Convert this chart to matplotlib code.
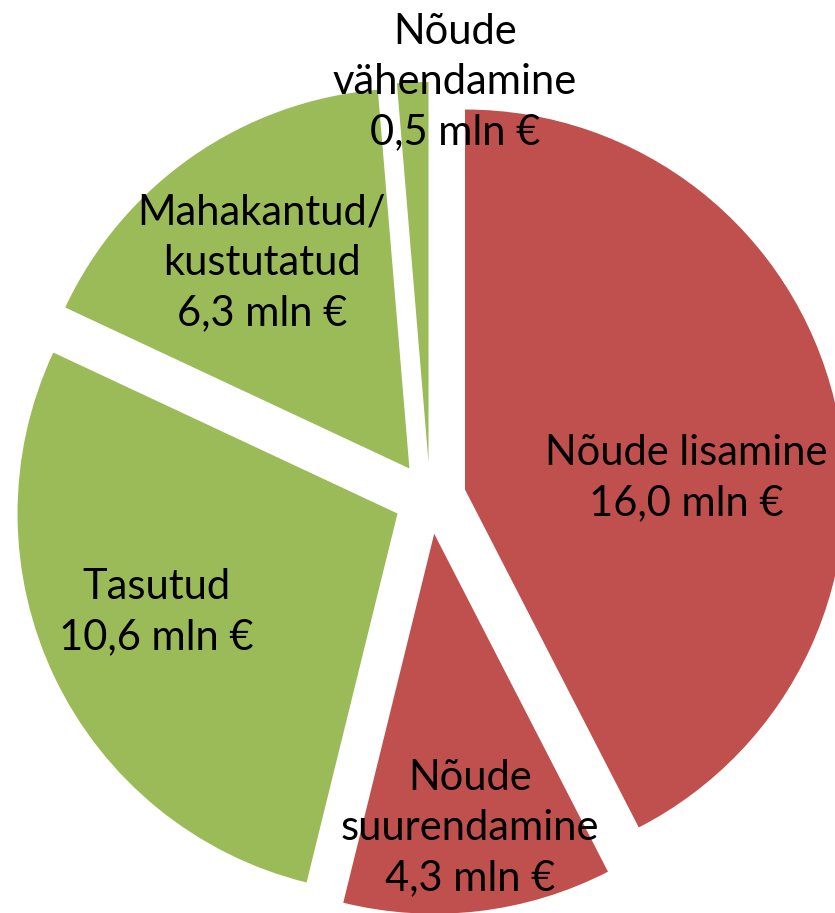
import matplotlib.pyplot as plt

labels = ["Nõude lisamine\n16,0 mln €",
          "Nõude\nsuurendamine\n4,3 mln €",
          "Tasutud\n10,6 mln €",
          "Mahakantud/\nkustutatud\n6,3 mln €",
          "Nõude\nvähendamine\n0,5 mln €"]
values = [16.0, 4.3, 10.6, 6.3, 0.5]
colors = ["#C0504D", "#C0504D", "#9BBB59", "#9BBB59", "#9BBB59"]

# label centres in pixel coords (y from top)
label_pos = [(686, 478), (470, 828), (156, 612), (262, 263), (455, 82)]


def main():
    W, H = 835, 913
    fig = plt.figure(figsize=(W / 100, H / 100), dpi=100)
    ax = fig.add_axes([0, 0, 1, 1])

    # explode is in data units here (pixels)
    ax.pie(values, colors=colors, startangle=90, counterclock=False,
           center=(430, H - 498), radius=380, explode=[36] * len(values),
           wedgeprops=dict(linewidth=0))

    for text, (x, y) in zip(labels, label_pos):
        ax.text(x, H - y, text, ha="center", va="center", fontsize=30,
                family="Lato", linespacing=1.4, color="black")

    ax.set_xlim(0, W)
    ax.set_ylim(0, H)
    ax.set_aspect("equal")
    ax.axis("off")
    fig.savefig("out.png", dpi=100, facecolor="white")


if __name__ == "__main__":
    main()
